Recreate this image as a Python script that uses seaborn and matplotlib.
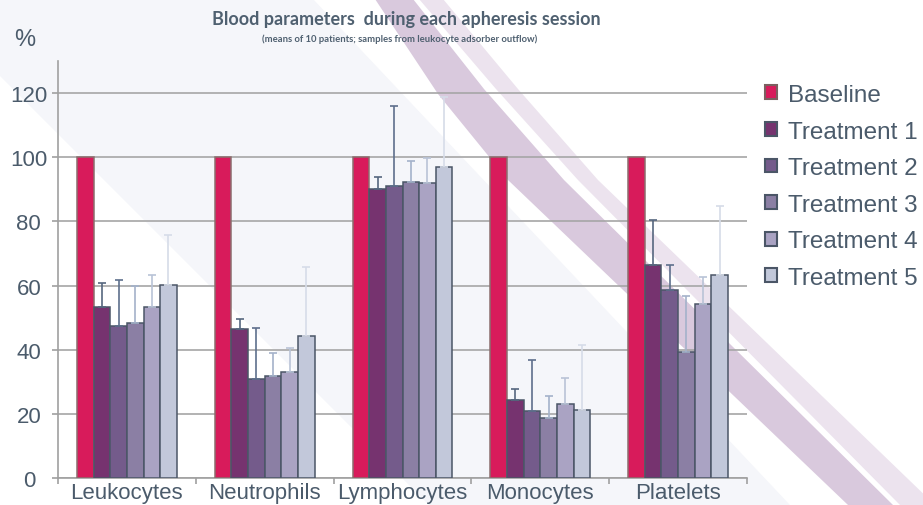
import matplotlib
matplotlib.use("Agg")
import matplotlib.pyplot as plt
from matplotlib.patches import Polygon, Patch
import numpy as np
import pandas as pd
import seaborn as sns

# data (% of baseline)
categories = ["Leukocytes", "Neutrophils", "Lymphocytes", "Monocytes", "Platelets"]
series_names = ["Baseline", "Treatment 1", "Treatment 2", "Treatment 3", "Treatment 4", "Treatment 5"]
baseline = [100, 100, 100, 100, 100]
t1 = [53.4, 46.6, 90.0, 24.4, 66.4]
t2 = [47.4, 30.9, 91.0, 20.9, 58.6]
t3 = [48.4, 31.9, 92.3, 18.8, 39.4]
t4 = [53.4, 33.1, 91.9, 23.2, 54.3]
t5 = [60.1, 44.4, 97.1, 21.1, 63.2]
# upper end of the error whiskers
t1_top = [60.7, 49.7, 93.9, 27.7, 80.5]
t2_top = [61.8, 46.7, 116.0, 36.8, 66.4]
t3_top = [59.9, 39.0, 98.9, 25.5, 56.8]
t4_top = [63.3, 40.6, 99.9, 31.2, 62.7]
t5_top = [75.7, 65.8, 118.9, 41.5, 84.7]
yticks = [0, 20, 40, 60, 80, 100, 120]

values = [baseline, t1, t2, t3, t4, t5]
tops = [None, t1_top, t2_top, t3_top, t4_top, t5_top]

fills = ["#D81B5B", "#76336F", "#745B8B", "#8B7FA4", "#AAA3C3", "#C2C8DA"]
edges = ["#8C6E6E", "#4B5667", "#4B5667", "#4B5667", "#4B5667", "#4B5667"]
errcols = [None, "#56677F", "#5E6F8C", "#A4B2CA", "#B9C3D7", "#D6DCE8"]
txt = "#4B5B6B"

rows = []
for s, vals in zip(series_names, values):
    for c, v in zip(categories, vals):
        rows.append({"category": c, "series": s, "value": v})
df = pd.DataFrame(rows)

sns.set_style("white")
plt.rcParams["font.family"] = ["Liberation Sans", "DejaVu Sans"]

W, H = 923, 506
fig = plt.figure(figsize=(W / 100, H / 100), dpi=100)
fig.patch.set_facecolor("white")


def px(pts):
    return [(x / W, 1 - y / H) for x, y in pts]


# decorative background (grey band + two purple stripes)
fig.patches.append(Polygon(px([(0, 0), (313, 0), (790, 506), (429, 506), (0, 77)]),
                           closed=True, transform=fig.transFigure, fc="#F5F6FA", ec="none", zorder=-3))
fig.patches.append(Polygon(px([(375, 0), (413, 0), (484, 90), (564, 181), (893, 506),
                               (848, 506), (508, 181), (438, 95)]),
                           closed=True, transform=fig.transFigure, fc="#D9C9DD", ec="none", zorder=-2))
fig.patches.append(Polygon(px([(419, 0), (443, 0), (518, 90), (598, 181), (935, 506),
                               (900, 506), (578, 181), (496, 90)]),
                           closed=True, transform=fig.transFigure, fc="#ECE3EE", ec="none", zorder=-2))

ax = fig.add_axes([58 / W, 1 - 479 / H, (747 - 58) / W, (479 - 62) / H])
ax.patch.set_alpha(0)

sns.barplot(data=df, x="category", y="value", hue="series", order=categories,
            hue_order=series_names, palette=fills, width=0.723, gap=0,
            errorbar=None, legend=False, ax=ax, zorder=3)

bar_conts = list(ax.containers)
for i, cont in enumerate(bar_conts):
    xs = []
    for bar in cont:
        bar.set_facecolor(fills[i])
        bar.set_edgecolor(edges[i])
        bar.set_linewidth(1.1)
        xs.append(bar.get_x() + bar.get_width() / 2)
    if tops[i] is not None:
        v = np.array(values[i])
        up = np.array(tops[i]) - v
        ax.errorbar(xs, v, yerr=[np.zeros_like(up), up], fmt="none",
                    ecolor=errcols[i], elinewidth=1.2, capsize=3, capthick=1.2, zorder=4)

ax.set_xlim(-0.5, 4.5)
ax.set_ylim(0, 130)
ax.set_yticks(yticks)
ax.yaxis.grid(True, color="#A6A6A6", lw=1.2, zorder=0)
ax.set_axisbelow(True)
ax.set_xlabel("")
ax.set_ylabel("")
for side in ["top", "right"]:
    ax.spines[side].set_visible(False)
for side in ["left", "bottom"]:
    ax.spines[side].set_color("#A0A0A0")
    ax.spines[side].set_linewidth(1.2)

ax.tick_params(axis="y", left=True, length=4, color="#A0A0A0", width=1.2, labelsize=16,
               labelcolor=txt, pad=17)
for lab in ax.get_yticklabels():
    lab.set_horizontalalignment("center")
ax.set_xticks(range(len(categories)))
ax.set_xticklabels(categories)
ax.set_xticks(np.arange(-0.5, 5, 1), minor=True)
ax.tick_params(axis="x", which="major", bottom=False, length=0, labelsize=16, labelcolor=txt, pad=3)
ax.tick_params(axis="x", which="minor", bottom=True, length=4, color="#A0A0A0", width=1.2)

fig.text(25 / W, 1 - 40 / H, "%", fontsize=17, color=txt, ha="center", va="center")
fig.text(406 / W, 1 - 20 / H, "Blood parameters  during each apheresis session",
         fontsize=13, fontweight="bold", family="Lato", color="#4F6070", ha="center", va="center")
fig.text(400 / W, 1 - 39 / H, "(means of 10 patients; samples from leukocyte adsorber outflow)",
         fontsize=6.85, fontweight="bold", family="Lato", color="#4F6070", ha="center", va="center")

handles = [Patch(facecolor=fills[i], edgecolor=edges[i] if i else "#7B6060", linewidth=1.5)
           for i in range(len(series_names))]
fig.legend(handles, series_names, loc="upper left", bbox_to_anchor=(765 / W, 1 - 85 / H),
           frameon=False, fontsize=17.5, labelcolor=txt, handlelength=0.5, handleheight=0.5,
           handletextpad=0.45, labelspacing=0.6, borderpad=0, borderaxespad=0)

plt.savefig("out.png", dpi=100)
